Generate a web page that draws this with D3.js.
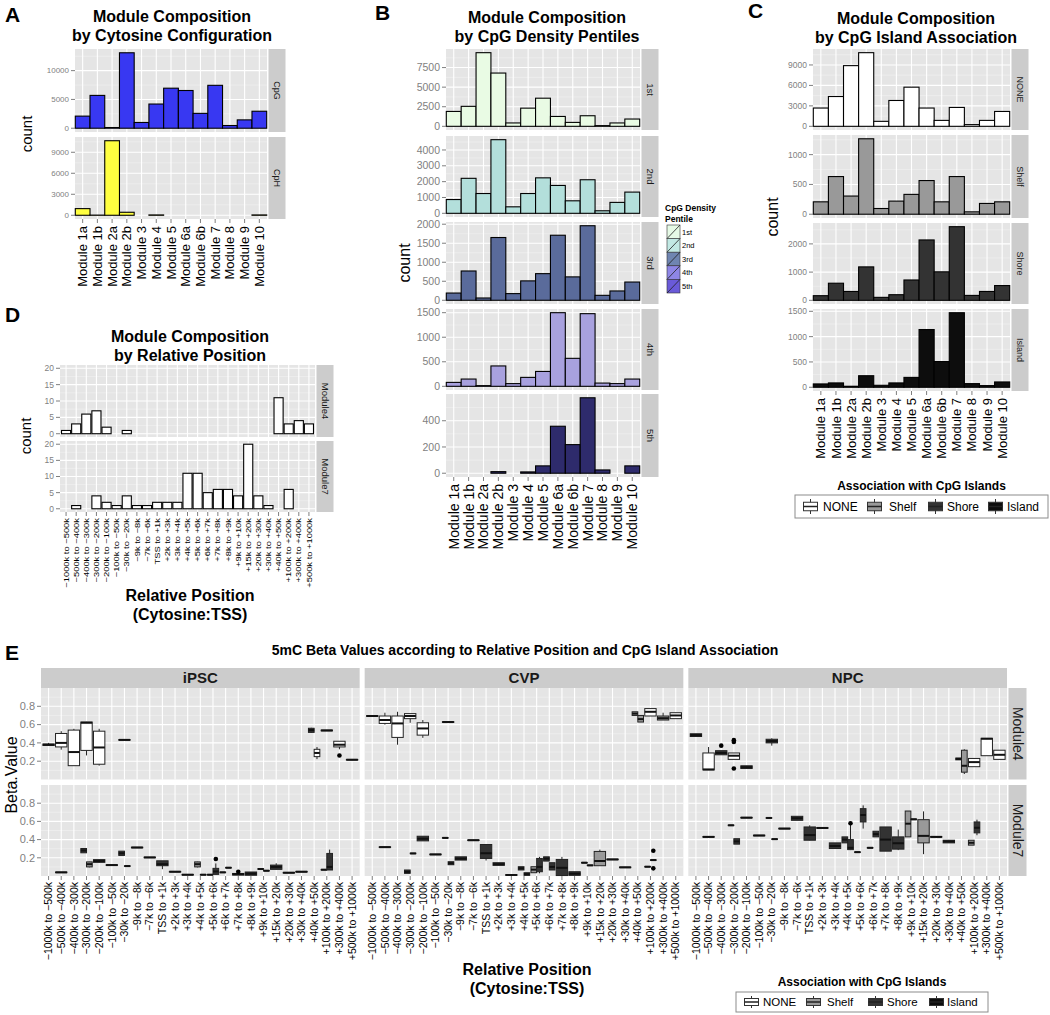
<!DOCTYPE html>
<html><head><meta charset="utf-8">
<script src="https://cdnjs.cloudflare.com/ajax/libs/d3/7.8.5/d3.min.js"></script>
<style>body{margin:0;background:#fff}svg{display:block}text{font-family:"Liberation Sans",Arial,Helvetica,sans-serif}</style>
</head><body>
<script>
// ---------------- DATA ----------------
const modules = ["Module 1a","Module 1b","Module 2a","Module 2b","Module 3","Module 4","Module 5","Module 6a","Module 6b","Module 7","Module 8","Module 9","Module 10"];

// Panel A
const cytosineConfigs = ["CpG","CpH"];
const countCpG = [2100,5700,120,13100,1000,4200,6950,6550,2580,7450,470,1450,2950];
const countCpH = [950,25,10650,430,0,50,0,0,0,0,0,0,50];
const ticksCpG = [0,5000,10000];
const ticksCpH = [0,3000,6000,9000];

// Panel B
const pentiles = ["1st","2nd","3rd","4th","5th"];
const pentile1st = [1900,2550,9400,6800,430,2320,3590,1260,500,1350,90,430,930];
const pentile2nd = [870,2210,1250,4650,410,1250,2240,1760,790,2120,160,690,1340];
const pentile3rd = [190,770,60,1650,175,510,700,1710,615,1960,130,245,480];
const pentile4th = [80,148,14,415,55,182,303,1500,570,1480,66,55,148];
const pentile5th = [0,0,0,12,0,10,56,358,218,575,25,0,56];
const ticks1st = [0,2500,5000,7500];
const ticks2nd = [0,1000,2000,3000,4000];
const ticks3rd = [0,500,1000,1500,2000];
const ticks4th = [0,500,1000,1500];
const ticks5th = [0,200,400];

// Panel C
const islandAssoc = ["NONE","Shelf","Shore","Island"];
const assocNONE = [2680,4370,8900,10800,730,3790,5740,2680,870,2770,250,870,2180];
const assocShelf = [208,632,305,1266,96,220,333,565,208,632,40,181,208];
const assocShore = [164,606,314,1185,105,199,721,2140,1010,2610,174,314,523];
const assocIsland = [66,86,20,228,39,86,195,1140,508,1472,72,33,105];
const ticksNONE = [0,3000,6000,9000];
const ticksShelf = [0,500,1000];
const ticksShore = [0,1000,2000];
const ticksIsland = [0,500,1000,1500];

// Panel D
const positions = ["\u22121000k to \u2212500k","\u2212500k to \u2212400k","\u2212400k to \u2212300k","\u2212300k to \u2212200k","\u2212200k to \u2212100k","\u2212100k to \u221250k","\u221230k to \u221220k","\u22129k to \u22128k","\u22127k to \u22126k","TSS to +1k","+2k to +3k","+3k to +4k","+4k to +5k","+5k to +6k","+6k to +7k","+7k to +8k","+8k to +9k","+9k to +10k","+15k to +20k","+20k to +30k","+30k to +40k","+40k to +50k","+100k to +200k","+300k to +400k","+500k to +1000k"];
const posModules = ["Module4","Module7"];
const module4Counts = [1,3,6,7,2,0,1,0,0,0,0,0,0,0,0,0,0,0,0,0,0,11,3,4,3];
const module7Counts = [0,1,0,4,2,1,4,1,1,2,2,2,11,11,5,6,6,4,20,4,1,0,6,0,0];
const ticksCount = [0,5,10,15,20];

// Panel E : [position index, association, lower whisker, q1, median, q3, upper whisker, outliers]
const cellLines = ["iPSC","CVP","NPC"];
const ticksBeta = [0.2,0.4,0.6,0.8];
const iPSC_M4 = [
 [0,"NONE",0.37,0.372,0.38,0.388,0.40,[]],
 [1,"NONE",0.326,0.356,0.40,0.503,0.528,[]],
 [2,"NONE",0.15,0.151,0.30,0.54,0.554,[]],
 [3,"NONE",0.263,0.318,0.62,0.628,0.63,[]],
 [4,"NONE",0.151,0.167,0.35,0.528,0.554,[]],
 [6,"NONE",0.43,0.43,0.433,0.436,0.436,[]],
 [21,"Shore",0.51,0.515,0.54,0.56,0.565,[]],
 [21,"NONE",0.223,0.25,0.29,0.33,0.355,[]],
 [22,"NONE",0.53,0.532,0.536,0.54,0.54,[]],
 [23,"NONE",0.33,0.356,0.38,0.418,0.42,[0.263]],
 [24,"NONE",0.212,0.213,0.216,0.219,0.22,[]]
];
const iPSC_M7 = [
 [1,"Shore",0.037,0.037,0.04,0.043,0.043,[]],
 [3,"Shore",0.255,0.255,0.28,0.302,0.302,[]],
 [3,"Shelf",0.095,0.1,0.13,0.155,0.157,[]],
 [4,"Shore",0.146,0.15,0.165,0.18,0.182,[]],
 [5,"Shore",0.117,0.117,0.12,0.123,0.123,[]],
 [6,"Shore",0.226,0.226,0.25,0.273,0.273,[]],
 [6,"Shore",0.106,0.106,0.109,0.112,0.112,[]],
 [7,"Shore",0.31,0.31,0.313,0.316,0.316,[]],
 [8,"Shore",0.201,0.201,0.204,0.207,0.207,[]],
 [9,"Shore",0.075,0.113,0.13,0.167,0.167,[]],
 [10,"Shore",0.044,0.044,0.047,0.05,0.05,[]],
 [11,"Shore",0.011,0.011,0.014,0.017,0.017,[]],
 [12,"Shelf",0.095,0.1,0.13,0.155,0.157,[]],
 [12,"Shore",0.011,0.011,0.014,0.017,0.017,[]],
 [13,"Shore",0.011,0.011,0.014,0.017,0.017,[]],
 [13,"Shore",0.015,0.018,0.05,0.084,0.138,[0.186]],
 [14,"Shore",0.037,0.037,0.04,0.043,0.043,[]],
 [14,"Shore",0.088,0.088,0.091,0.094,0.094,[]],
 [15,"Shore",0.008,0.01,0.02,0.028,0.03,[0.047]],
 [16,"Shore",0.008,0.008,0.025,0.044,0.044,[]],
 [17,"Shore",0.074,0.074,0.077,0.08,0.08,[]],
 [17,"Shore",0.055,0.055,0.058,0.061,0.061,[]],
 [18,"Shore",0.07,0.073,0.1,0.12,0.14,[]],
 [19,"Shore",0.033,0.033,0.036,0.039,0.039,[]],
 [20,"Shore",0.044,0.044,0.047,0.05,0.05,[]],
 [22,"Shore",0.066,0.066,0.069,0.072,0.072,[]],
 [22,"Shore",0.066,0.066,0.1,0.248,0.29,[]]
];
const CVP_M4 = [
 [0,"NONE",0.69,0.69,0.694,0.698,0.698,[]],
 [1,"NONE",0.60,0.613,0.65,0.694,0.73,[]],
 [2,"NONE",0.38,0.46,0.613,0.694,0.74,[]],
 [3,"NONE",0.62,0.665,0.694,0.72,0.72,[]],
 [4,"NONE",0.455,0.485,0.558,0.62,0.65,[]],
 [6,"NONE",0.624,0.624,0.628,0.632,0.632,[]],
 [21,"Shelf",0.70,0.70,0.72,0.74,0.74,[]],
 [21,"Shelf",0.628,0.628,0.66,0.70,0.70,[]],
 [22,"NONE",0.694,0.694,0.74,0.775,0.775,[]],
 [23,"Shelf",0.65,0.65,0.67,0.694,0.73,[]],
 [24,"NONE",0.665,0.665,0.70,0.73,0.73,[]]
];
const CVP_M7 = [
 [1,"Shore",0.314,0.314,0.317,0.32,0.32,[]],
 [3,"Shore",0.029,0.029,0.045,0.066,0.066,[]],
 [3,"Shore",0.245,0.245,0.248,0.251,0.251,[]],
 [4,"Shore",0.386,0.386,0.41,0.437,0.437,[]],
 [5,"Shore",0.234,0.234,0.237,0.24,0.24,[]],
 [6,"Shore",0.416,0.416,0.419,0.422,0.422,[]],
 [6,"Shore",0.124,0.124,0.14,0.157,0.157,[]],
 [7,"Shore",0.175,0.175,0.19,0.211,0.211,[]],
 [8,"Shore",0.39,0.39,0.393,0.396,0.396,[]],
 [9,"Shore",0.17,0.193,0.25,0.346,0.346,[]],
 [10,"Shore",0.117,0.117,0.13,0.146,0.146,[]],
 [11,"Shore",0.008,0.008,0.011,0.014,0.014,[]],
 [12,"Shore",0.066,0.066,0.085,0.102,0.102,[]],
 [12,"Shore",0.007,0.007,0.02,0.036,0.036,[]],
 [13,"Shelf",0.036,0.036,0.07,0.102,0.102,[]],
 [13,"Shore",0.03,0.047,0.1,0.193,0.21,[]],
 [14,"Shore",0.164,0.164,0.19,0.211,0.211,[]],
 [14,"Shore",0.066,0.066,0.1,0.146,0.146,[]],
 [15,"Shore",0.0,0.005,0.09,0.182,0.21,[]],
 [16,"Shore",0.007,0.007,0.025,0.047,0.047,[]],
 [17,"Shore",0.143,0.143,0.146,0.149,0.149,[]],
 [17,"Shore",0.114,0.114,0.117,0.12,0.12,[]],
 [18,"Shelf",0.113,0.113,0.165,0.27,0.29,[]],
 [19,"Shore",0.179,0.179,0.182,0.185,0.185,[]],
 [20,"Shore",0.092,0.092,0.095,0.098,0.098,[]],
 [22,"Shore",0.099,0.099,0.102,0.105,0.105,[]],
 [22,"Shore",0.172,0.172,0.175,0.178,0.178,[0.277,0.084]]
];
const NPC_M4 = [
 [0,"Shore",0.47,0.47,0.485,0.50,0.50,[]],
 [1,"NONE",0.105,0.105,0.11,0.29,0.355,[]],
 [2,"Shore",0.27,0.27,0.29,0.315,0.315,[0.37]],
 [3,"NONE",0.22,0.22,0.26,0.29,0.29,[0.43,0.41,0.12]],
 [4,"Shore",0.12,0.12,0.135,0.15,0.15,[]],
 [6,"Shore",0.37,0.40,0.42,0.44,0.45,[]],
 [21,"Shore",0.215,0.215,0.225,0.235,0.235,[]],
 [21,"Shelf",0.06,0.08,0.15,0.32,0.33,[]],
 [22,"NONE",0.14,0.14,0.19,0.23,0.23,[]],
 [23,"NONE",0.26,0.26,0.445,0.45,0.45,[]],
 [24,"NONE",0.22,0.22,0.27,0.32,0.32,[]]
];
const NPC_M7 = [
 [1,"Shore",0.427,0.427,0.43,0.433,0.433,[]],
 [3,"Shore",0.554,0.554,0.557,0.56,0.56,[]],
 [3,"Shore",0.35,0.35,0.38,0.41,0.41,[]],
 [4,"Shore",0.638,0.638,0.641,0.644,0.644,[]],
 [5,"Shore",0.442,0.442,0.445,0.448,0.448,[]],
 [6,"Shore",0.635,0.635,0.638,0.641,0.641,[]],
 [6,"Shore",0.402,0.402,0.405,0.408,0.408,[]],
 [7,"Shore",0.518,0.518,0.521,0.524,0.524,[]],
 [8,"Shore",0.612,0.612,0.635,0.656,0.656,[]],
 [9,"Shore",0.39,0.393,0.45,0.539,0.557,[]],
 [10,"Shore",0.525,0.525,0.528,0.531,0.531,[]],
 [11,"Shore",0.302,0.302,0.33,0.364,0.364,[]],
 [12,"Shore",0.364,0.364,0.40,0.43,0.43,[]],
 [12,"Shore",0.285,0.29,0.31,0.40,0.576,[0.58]],
 [13,"Shore",0.259,0.259,0.262,0.265,0.265,[]],
 [13,"Shore",0.521,0.594,0.67,0.74,0.776,[]],
 [14,"Shore",0.307,0.307,0.31,0.313,0.313,[]],
 [14,"Shore",0.43,0.43,0.46,0.492,0.492,[]],
 [15,"Shore",0.273,0.273,0.40,0.539,0.539,[]],
 [16,"Shore",0.284,0.295,0.36,0.43,0.51,[]],
 [17,"Shelf",0.43,0.43,0.575,0.714,0.714,[]],
 [17,"Shore",0.62,0.62,0.623,0.626,0.626,[]],
 [18,"Shelf",0.24,0.364,0.441,0.619,0.71,[]],
 [19,"Shore",0.427,0.427,0.43,0.433,0.433,[]],
 [20,"Shore",0.364,0.364,0.38,0.393,0.393,[]],
 [22,"Shelf",0.339,0.339,0.365,0.393,0.393,[]],
 [22,"Shore",0.448,0.474,0.53,0.594,0.619,[]]
];

// ---------------- STYLE ----------------
const BG = "#e5e5e5", STRIP = "#cccccc", TICKC = "#7f7f7f";
const fillA = {CpG:"#3838f2", CpH:"#ffff40"};
const fillB = ["#e9fbe4","#b3dfdb","#5a6b9b","#a8a1de","#2e2b6c"];
const keyB  = ["#e6fae6","#c2e9e4","#6f85b1","#8e86e6","#6a5ad8"];
const fillC = {NONE:"#ffffff", Shelf:"#999999", Shore:"#333333", Island:"#0d0d0d"};

const svg = d3.select("body").append("svg").attr("width",1050).attr("height",1015);
svg.append("rect").attr("width",1050).attr("height",1015).attr("fill","#fff");

function T(g,x,y,s,o={}){
  const t=g.append("text").text(s).attr("font-size",o.size||12).attr("fill",o.fill||"#000")
    .attr("font-weight",o.weight||"normal").attr("text-anchor",o.anchor||"start");
  if(o.rot!==undefined||o.sx){t.attr("transform",`translate(${x},${y}) rotate(${o.rot||0}) scale(${o.sx||1},1)`);}
  else t.attr("x",x).attr("y",y);
  if(o.dy) t.attr("dy",o.dy);
  return t;
}
function gridBg(g,x0,x1,y0,y1,ys,ticks,xs){
  g.append("rect").attr("x",x0).attr("y",y0).attr("width",x1-x0).attr("height",y1-y0).attr("fill",BG);
  const st=ticks[1]-ticks[0], dom=ys.domain(), minors=[];
  for(let v=ticks[0]-st/2; v<=dom[1]; v+=st) if(v>=dom[0]) minors.push(v);
  g.selectAll(null).data(minors).enter().append("line").attr("x1",x0).attr("x2",x1)
    .attr("y1",d=>ys(d)).attr("y2",d=>ys(d)).attr("stroke","#f2f2f2").attr("stroke-width",0.6);
  g.selectAll(null).data(ticks).enter().append("line").attr("x1",x0).attr("x2",x1)
    .attr("y1",d=>ys(d)).attr("y2",d=>ys(d)).attr("stroke","#fff").attr("stroke-width",1.1);
  g.selectAll(null).data(xs).enter().append("line").attr("y1",y0).attr("y2",y1)
    .attr("x1",d=>d).attr("x2",d=>d).attr("stroke","#fff").attr("stroke-width",1.1);
}
function yAxis(g,x0,ys,ticks,size,fmt){
  g.selectAll(null).data(ticks).enter().append("line").attr("x1",x0-4).attr("x2",x0)
    .attr("y1",d=>ys(d)).attr("y2",d=>ys(d)).attr("stroke",TICKC);
  ticks.forEach(v=>T(g,x0-6,ys(v),fmt?fmt(v):String(v),{size,anchor:"end",fill:TICKC,dy:"0.35em"}));
}
function rightStrip(g,x,y0,y1,w,label,size){
  g.append("rect").attr("x",x).attr("y",y0).attr("width",w).attr("height",y1-y0).attr("fill",STRIP);
  T(g,x+w/2,(y0+y1)/2,label,{size,anchor:"middle",rot:90,dy:"0.35em",fill:"#1a1a1a"});
}

// generic faceted bar column
function barColumn(cfg){
  const g=svg.append("g");
  const xs=d3.scaleBand().domain(cfg.cats).range([cfg.x0,cfg.x1]).paddingInner(cfg.pi).paddingOuter(cfg.po);
  const centers=cfg.cats.map(c=>xs(c)+xs.bandwidth()/2);
  const sharedMax=cfg.shared?d3.max(cfg.facets,f=>d3.max(f.values)):null;
  cfg.facets.forEach((f,fi)=>{
    const M=sharedMax||d3.max(f.values);
    const ys=d3.scaleLinear().domain([-0.05*M,1.05*M]).range([f.y1,f.y0]);
    gridBg(g,cfg.x0,cfg.x1,f.y0,f.y1,ys,f.ticks,centers);
    const bars=cfg.cats.map((c,i)=>({c,v:f.values[i]})).filter(d=>d.v>0);
    g.selectAll(null).data(bars).enter().append("rect")
      .attr("x",d=>xs(d.c)).attr("width",xs.bandwidth())
      .attr("y",d=>ys(d.v)).attr("height",d=>ys(0)-ys(d.v))
      .attr("fill",f.fill).attr("stroke","#000").attr("stroke-width",1.1);
    yAxis(g,cfg.x0,ys,f.ticks,cfg.tickSize);
    rightStrip(g,cfg.x1+1.5,f.y0,f.y1,cfg.stripW,f.label,cfg.stripSize);
    if(fi===cfg.facets.length-1){
      g.selectAll(null).data(centers).enter().append("line").attr("x1",d=>d).attr("x2",d=>d)
        .attr("y1",f.y1).attr("y2",f.y1+4).attr("stroke",TICKC);
      cfg.cats.forEach((c,i)=>T(g,centers[i],f.y1+(cfg.labGap||7),c,{size:cfg.labSize,anchor:"end",rot:-90,dy:"0.35em",sx:cfg.labSx||1}));
    }
  });
  return g;
}

// ---------- Panel A ----------
T(svg,5,22,"A",{size:21,weight:"bold"});
T(svg,172,22,"Module Composition",{size:16,weight:"bold",anchor:"middle"});
T(svg,172,41,"by Cytosine Configuration",{size:16,weight:"bold",anchor:"middle"});
barColumn({cats:modules,x0:75,x1:267,pi:0,po:0.02,stripW:17,stripSize:9,tickSize:8,labSize:13,
  facets:[{label:cytosineConfigs[0],values:countCpG,ticks:ticksCpG,fill:fillA.CpG,y0:49,y1:132},
          {label:cytosineConfigs[1],values:countCpH,ticks:ticksCpH,fill:fillA.CpH,y0:137,y1:219}]});
T(svg,32,134,"count",{size:15,anchor:"middle",rot:-90});

// ---------- Panel B ----------
T(svg,375,20,"B",{size:21,weight:"bold"});
T(svg,547,23,"Module Composition",{size:16,weight:"bold",anchor:"middle"});
T(svg,547,42,"by CpG Density Pentiles",{size:16,weight:"bold",anchor:"middle"});
const bSeries=[pentile1st,pentile2nd,pentile3rd,pentile4th,pentile5th];
const bTicks=[ticks1st,ticks2nd,ticks3rd,ticks4th,ticks5th];
const bY=[[49,130],[136,217],[222,304],[309,390],[394,477]];
barColumn({cats:modules,x0:446,x1:640,pi:0,po:0.02,stripW:17,stripSize:9.5,tickSize:10.5,labSize:14,
  facets:pentiles.map((p,i)=>({label:p,values:bSeries[i],ticks:bTicks[i],fill:fillB[i],y0:bY[i][0],y1:bY[i][1]}))});
T(svg,410,263,"count",{size:16,anchor:"middle",rot:-90});
// legend B
const lgB=svg.append("g");
T(lgB,665,211,"CpG Density",{size:8.5,weight:"bold"});
T(lgB,665,222,"Pentile",{size:8.5,weight:"bold"});
pentiles.forEach((p,i)=>{
  const y=225+i*13.6;
  lgB.append("rect").attr("x",667).attr("y",y).attr("width",13).attr("height",13.6).attr("fill",keyB[i]).attr("stroke","#333").attr("stroke-width",0.6);
  lgB.append("line").attr("x1",667).attr("y1",y+13.6).attr("x2",680).attr("y2",y).attr("stroke","#222").attr("stroke-width",0.8);
  T(lgB,682,y+7,p,{size:7.5,dy:"0.35em"});
});

// ---------- Panel C ----------
T(svg,748,18,"C",{size:21,weight:"bold"});
T(svg,916,24,"Module Composition",{size:16,weight:"bold",anchor:"middle"});
T(svg,916,43,"by CpG Island Association",{size:16,weight:"bold",anchor:"middle"});
const cSeries=[assocNONE,assocShelf,assocShore,assocIsland];
const cTicks=[ticksNONE,ticksShelf,ticksShore,ticksIsland];
const cY=[[49,130],[135,218],[223,304],[309,391]];
barColumn({cats:modules,x0:813,x1:1010,pi:0,po:0.02,stripW:17,stripSize:9,tickSize:8.5,labSize:13,
  facets:islandAssoc.map((a,i)=>({label:a,values:cSeries[i],ticks:cTicks[i],fill:fillC[a],y0:cY[i][0],y1:cY[i][1]}))});
T(svg,778,217,"count",{size:16,anchor:"middle",rot:-90});

function boxKey(g,x,y,w,h,fill){
  g.append("rect").attr("x",x).attr("y",y).attr("width",w).attr("height",h).attr("fill","#fff");
  g.append("line").attr("x1",x+w/2).attr("x2",x+w/2).attr("y1",y+1).attr("y2",y+h-1).attr("stroke","#333");
  g.append("rect").attr("x",x+1.5).attr("y",y+h*0.25).attr("width",w-3).attr("height",h*0.5).attr("fill",fill).attr("stroke","#333");
  g.append("line").attr("x1",x+1.5).attr("x2",x+w-1.5).attr("y1",y+h/2).attr("y2",y+h/2).attr("stroke","#222").attr("stroke-width",1.5);
}
function assocLegend(x0,x1,y0,y1,titleY,keyX,textX,size){
  const g=svg.append("g");
  T(g,(x0+x1)/2,titleY,"Association with CpG Islands",{size:12,weight:"bold",anchor:"middle"});
  g.append("rect").attr("x",x0).attr("y",y0).attr("width",x1-x0).attr("height",y1-y0).attr("fill","#fff").attr("stroke","#8c8c8c");
  islandAssoc.forEach((a,i)=>{
    boxKey(g,keyX[i],y0+3,17,y1-y0-6,fillC[a]);
    T(g,textX[i],(y0+y1)/2,a,{size,dy:"0.35em"});
  });
}
assocLegend(795,1048,495,518,490,[802,866,927,987],[823,889,947,1007],12);

// ---------- Panel D ----------
T(svg,5,322,"D",{size:21,weight:"bold"});
T(svg,190,342,"Module Composition",{size:16,weight:"bold",anchor:"middle"});
T(svg,190,361,"by Relative Position",{size:16,weight:"bold",anchor:"middle"});
barColumn({cats:positions,x0:60,x1:315,pi:0.1,po:0.15,stripW:17,stripSize:9.5,tickSize:8.5,labSize:7.5,labSx:1.25,labGap:6,shared:true,
  facets:[{label:posModules[0],values:module4Counts,ticks:ticksCount,fill:"#fff",y0:365,y1:437},
          {label:posModules[1],values:module7Counts,ticks:ticksCount,fill:"#fff",y0:441,y1:512}]});
T(svg,31,436,"count",{size:15,anchor:"middle",rot:-90});
T(svg,190,601,"Relative Position",{size:16,weight:"bold",anchor:"middle"});
T(svg,190,620,"(Cytosine:TSS)",{size:16,weight:"bold",anchor:"middle"});

// ---------- Panel E ----------
T(svg,5,660,"E",{size:21,weight:"bold"});
T(svg,525,655,"5mC Beta Values according to Relative Position and CpG Island Association",{size:14,weight:"bold",anchor:"middle"});
const eData={iPSC:[iPSC_M4,iPSC_M7],CVP:[CVP_M4,CVP_M7],NPC:[NPC_M4,NPC_M7]};
const eX0=41,eX1=1007,eGap=5,ePW=(eX1-eX0-2*eGap)/3;
const eRows=[[688,779.5],[785,876]];
const gE=svg.append("g");
cellLines.forEach((cl,ci)=>{
  const px0=eX0+ci*(ePW+eGap), px1=px0+ePW;
  const xs=d3.scalePoint().domain(d3.range(positions.length)).range([px0,px1]).padding(0.6);
  const centers=positions.map((p,i)=>xs(i));
  gE.append("rect").attr("x",px0).attr("y",668).attr("width",ePW).attr("height",20).attr("fill",STRIP);
  T(gE,(px0+px1)/2,678,cl,{size:15,weight:"bold",anchor:"middle",dy:"0.35em",fill:"#1a1a1a"});
  eRows.forEach((r,ri)=>{
    const ys=d3.scaleLinear().domain([0,1.0]).range([r[1],r[0]]);
    gridBg(gE,px0,px1,r[0],r[1],ys,ticksBeta,centers);
    if(ci===0) yAxis(gE,px0,ys,ticksBeta,11,d=>d.toFixed(1));
    if(ci===2) rightStrip(gE,px1+1.5,r[0],r[1],18,posModules[ri],14);
    const data=eData[cl][ri];
    const full=0.9*xs.step();
    const cnt=d3.rollup(data,v=>v.length,d=>d[0]);
    const seen=new Map();
    data.forEach(d=>{
      const [pos,grp,lo,q1,med,q3,hi,outs]=d;
      const n=cnt.get(pos), k=seen.get(pos)||0; seen.set(pos,k+1);
      const w=full/n, left=xs(pos)-full/2+k*w, cx=left+w/2;
      gE.append("line").attr("x1",cx).attr("x2",cx).attr("y1",ys(hi)).attr("y2",ys(q3)).attr("stroke","#222");
      gE.append("line").attr("x1",cx).attr("x2",cx).attr("y1",ys(q1)).attr("y2",ys(lo)).attr("stroke","#222");
      gE.append("rect").attr("x",left).attr("y",ys(q3)).attr("width",w).attr("height",Math.max(ys(q1)-ys(q3),0.5))
        .attr("fill",fillC[grp]).attr("stroke","#222").attr("stroke-width",1);
      gE.append("line").attr("x1",left).attr("x2",left+w).attr("y1",ys(med)).attr("y2",ys(med)).attr("stroke","#111").attr("stroke-width",2);
      outs.forEach(o=>gE.append("circle").attr("cx",cx).attr("cy",ys(o)).attr("r",2.3).attr("fill","#000"));
    });
    if(ri===1){
      gE.selectAll(null).data(centers).enter().append("line").attr("x1",d=>d).attr("x2",d=>d)
        .attr("y1",r[1]).attr("y2",r[1]+4).attr("stroke",TICKC);
      positions.forEach((p,i)=>T(gE,centers[i],r[1]+6,p,{size:10.5,anchor:"end",rot:-90,dy:"0.35em"}));
    }
  });
});
T(svg,17,775,"Beta.Value",{size:16,anchor:"middle",rot:-90});
T(svg,527,975,"Relative Position",{size:16,weight:"bold",anchor:"middle"});
T(svg,527,994,"(Cytosine:TSS)",{size:16,weight:"bold",anchor:"middle"});
assocLegend(736,988,992,1012,986,[743,805,867,928],[763,827,887,947],11.5);
</script>
</body></html>
